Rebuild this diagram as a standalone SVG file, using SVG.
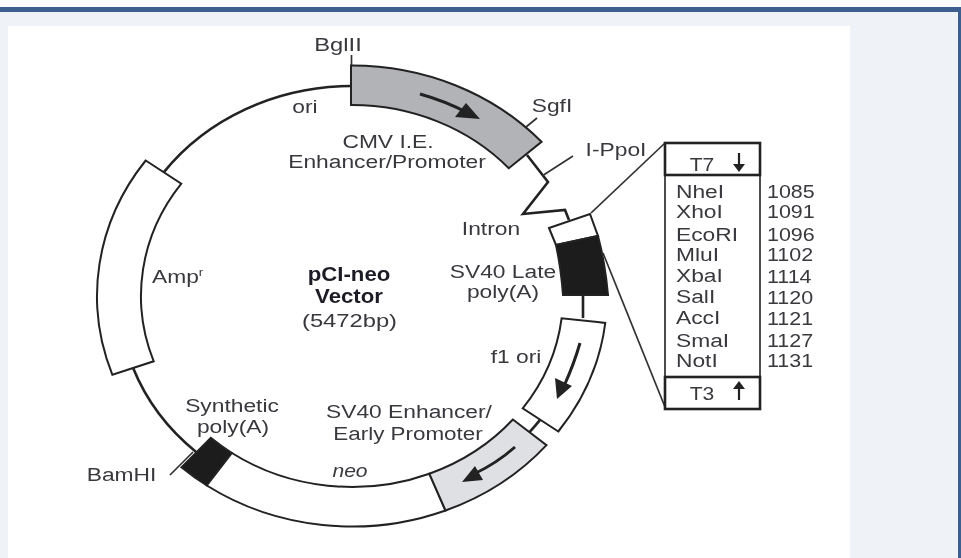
<svg xmlns="http://www.w3.org/2000/svg" width="961" height="558" viewBox="0 0 961 558">
<style>
text{font-family:"Liberation Sans",Arial,sans-serif;font-size:19px;fill:#38383e;text-anchor:middle}
.l{text-anchor:start}
.b{font-weight:bold;font-size:19.5px;fill:#1e1e26}
.seg{stroke:#222;stroke-width:2}
.bb{fill:none;stroke:#222;stroke-width:2.6}
.thin{fill:none;stroke:#333;stroke-width:1.7}
.ar{fill:none;stroke:#222;stroke-width:2.2}
.arr{fill:none;stroke:#222;stroke-width:3}
.head{fill:#222;stroke:none}
.box{fill:#fff;stroke:#222;stroke-width:2.6}
</style>
<defs><filter id="soft" x="-2%" y="-2%" width="104%" height="104%"><feGaussianBlur stdDeviation="0.55"/></filter></defs>
<rect width="961" height="558" fill="#eff3f8"/>
<rect width="961" height="7" fill="#fafbfd"/>
<rect y="7" width="961" height="5" fill="#3c5f8f"/>
<rect x="958" y="7" width="3" height="551" fill="#3c5f8f"/>
<rect x="8" y="26" width="842" height="532" fill="#fff"/>
<g filter="url(#soft)">
<g id="connectors">
<path class="bb" d="M163.5,172.6A233 210 0 0 1 351,86"/>
<path class="bb" d="M133,367.8A233 210 0 0 0 196.1,452"/>
<path class="bb" d="M540.5,419.4A233 210 0 0 1 529.7,431.8"/>
<path class="bb" d="M583,295V318"/>
<path class="bb" d="M527,155L548,182L523,214L565,210L569,220"/>
<path class="thin" d="M351.5,55V66"/>
<path class="thin" d="M526,127L537,118"/>
<path class="thin" d="M542,176L573,156"/>
<path class="thin" d="M170,475L193,452"/>
<path class="thin" d="M591,213L665,143"/>
<path class="thin" d="M603,253L665,407"/>
</g>
<g id="cmv">
<path class="seg" fill="#b1b3b6" d="M351,65.5A255 230.5 0 0 1 541.5,141.8L508.8,168.2A211 191 0 0 0 351,105Z"/>
<path class="arr" d="M420,94Q445,101 468,113"/>
<path class="head" d="M480,119L455,117L466,103Z"/>
<text transform="translate(388,148) scale(1.2,1)">CMV I.E.</text>
<text transform="translate(387,168) scale(1.2,1)">Enhancer/Promoter</text>
</g>
<g id="amp">
<path class="seg" fill="#fff" d="M145.7,160.5A255 230.5 0 0 0 112.4,374.8L153.7,361.3A211 191 0 0 1 181.3,183.7Z"/>
<text transform="translate(152,283) scale(1.2,1)" class="l">Amp<tspan font-size="11" dy="-7">r</tspan></text>
</g>
<g id="synthetic-polya">
<path class="seg" fill="#1c1c1c" d="M181.4,467.3A255 230.5 0 0 0 206.8,485.5L231.9,453A211 191 0 0 1 210.8,437.9Z"/>
<text transform="translate(232,412) scale(1.2,1)">Synthetic</text>
<text transform="translate(233,433) scale(1.2,1)">poly(A)</text>
</g>
<g id="neo">
<path class="seg" fill="#fff" d="M206.8,485.5A255 230.5 0 0 0 445.5,510.5L429.3,473.7A211 191 0 0 1 231.9,453Z"/>
<text transform="translate(350,477) scale(1.11,1)" font-style="italic">neo</text>
</g>
<g id="sv40-enhancer">
<path class="seg" fill="#dfe0e3" d="M445.5,510.5A255 230.5 0 0 0 546.5,445.1L512.9,419.5A211 191 0 0 1 429.3,473.7Z"/>
<path class="arr" d="M515,447Q497,463 474,474"/>
<path class="head" d="M462,482L475,466L483,480Z"/>
<text transform="translate(409,418) scale(1.2,1)">SV40 Enhancer/</text>
<text transform="translate(408,440) scale(1.18,1)">Early Promoter</text>
</g>
<g id="f1-ori">
<path class="seg" fill="#fff" d="M605.3,322.9A255 230.5 0 0 1 558.3,431.5L522.7,408.3A211 191 0 0 0 561.6,318.3Z"/>
<path class="arr" d="M580,343Q574,364 564,386"/>
<path class="head" d="M557,399L555,378L572,386Z"/>
<text transform="translate(516,363) scale(1.2,1)">f1 ori</text>
</g>
<g id="sv40-late">
<path class="seg" fill="#fff" d="M549,228L590,214L598,236L556,245Z"/>
<path class="seg" fill="#1c1c1c" d="M556,245L598,236Q605,262 608,295L563,295Q561,268 556,245Z"/>
<text transform="translate(503,278) scale(1.2,1)">SV40 Late</text>
<text transform="translate(503,298) scale(1.2,1)">poly(A)</text>
</g>
<g id="center">
<text transform="translate(349,281) scale(1.14,1)" class="b">pCI-neo</text>
<text transform="translate(349,303) scale(1.14,1)" class="b">Vector</text>
<text transform="translate(349.5,327) scale(1.25,1)">(5472bp)</text>
</g>
<g id="labels">
<text transform="translate(338,51) scale(1.25,1)">BglII</text>
<text transform="translate(305,113) scale(1.2,1)">ori</text>
<text transform="translate(552,112) scale(1.2,1)">SgfI</text>
<text transform="translate(616,156) scale(1.2,1)">I-PpoI</text>
<text transform="translate(491,235) scale(1.2,1)">Intron</text>
<text transform="translate(121.5,481) scale(1.2,1)">BamHI</text>
</g>
<g id="mcs">
<rect x="665" y="175" width="95" height="202" fill="#fff" stroke="#222" stroke-width="1.6"/>
<rect class="box" x="665" y="143" width="95" height="32"/>
<rect class="box" x="665" y="377" width="95" height="32"/>
<text transform="translate(702,171) scale(1.11,1)">T7</text>
<text transform="translate(702,400) scale(1.11,1)">T3</text>
<path class="ar" d="M739,153V166"/>
<path class="head" d="M733,164H745L739,172Z"/>
<path class="ar" d="M739,400V387"/>
<path class="head" d="M733,389H745L739,381Z"/>
<text class="l" transform="translate(676,198) scale(1.2,1)">NheI</text>
<text class="l" transform="translate(676,218) scale(1.2,1)">XhoI</text>
<text class="l" transform="translate(676,241) scale(1.2,1)">EcoRI</text>
<text class="l" transform="translate(676,261) scale(1.2,1)">MluI</text>
<text class="l" transform="translate(676,282) scale(1.2,1)">XbaI</text>
<text class="l" transform="translate(676,303) scale(1.2,1)">SalI</text>
<text class="l" transform="translate(676,324) scale(1.2,1)">AccI</text>
<text class="l" transform="translate(676,347) scale(1.2,1)">SmaI</text>
<text class="l" transform="translate(676,367) scale(1.2,1)">NotI</text>
<text class="l" transform="translate(767,198) scale(1.13,1)">1085</text>
<text class="l" transform="translate(767,218) scale(1.13,1)">1091</text>
<text class="l" transform="translate(767,241) scale(1.13,1)">1096</text>
<text class="l" transform="translate(767,261) scale(1.13,1)">1102</text>
<text class="l" transform="translate(767,283) scale(1.13,1)">1114</text>
<text class="l" transform="translate(767,304) scale(1.13,1)">1120</text>
<text class="l" transform="translate(767,325) scale(1.13,1)">1121</text>
<text class="l" transform="translate(767,347) scale(1.13,1)">1127</text>
<text class="l" transform="translate(767,367) scale(1.13,1)">1131</text>
</g>
</g>
</svg>
